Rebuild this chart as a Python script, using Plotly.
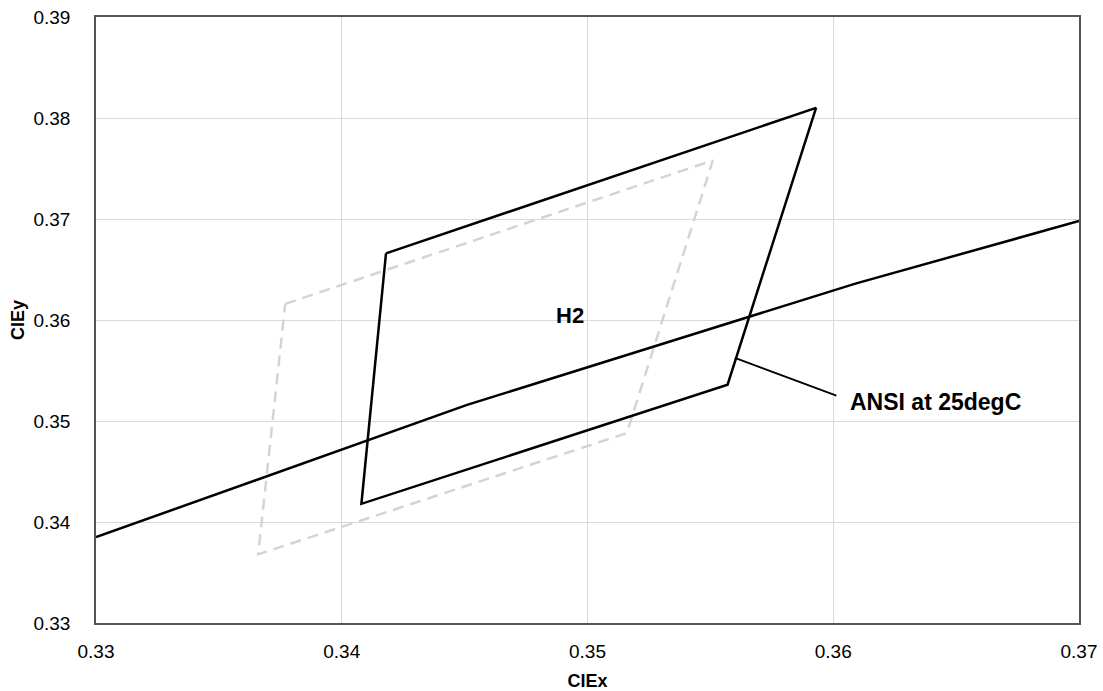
import plotly.graph_objects as go

# H2 quadrangle (solid)
h2_x = [0.3418, 0.3593, 0.3557, 0.3408, 0.3418]
h2_y = [0.3666, 0.3810, 0.3536, 0.3418, 0.3666]

# Shifted quadrangle (dashed gray)
sh_x = [0.3377, 0.3551, 0.3516, 0.3366, 0.3377]
sh_y = [0.3616, 0.3758, 0.3488, 0.3368, 0.3616]

# ANSI line at 25degC
ansi_x = [0.3300, 0.3451, 0.3609, 0.3700]
ansi_y = [0.3385, 0.3516, 0.3636, 0.3698]

x_ticks = [0.33, 0.34, 0.35, 0.36, 0.37]
y_ticks = [0.33, 0.34, 0.35, 0.36, 0.37, 0.38, 0.39]

FONT = "Liberation Sans, Arial, sans-serif"

fig = go.Figure()
fig.add_trace(go.Scatter(x=sh_x, y=sh_y, mode="lines",
                         line=dict(color="#d4d4d4", width=2.5, dash="11px,7px"),
                         showlegend=False, hoverinfo="skip"))
fig.add_trace(go.Scatter(x=h2_x, y=h2_y, mode="lines",
                         line=dict(color="black", width=2.5),
                         showlegend=False, hoverinfo="skip"))
fig.add_trace(go.Scatter(x=ansi_x, y=ansi_y, mode="lines",
                         line=dict(color="black", width=2.5),
                         showlegend=False, hoverinfo="skip"))

fig.add_annotation(x=0.3493, y=0.3604, text="<b>H2</b>", showarrow=False,
                   font=dict(family=FONT, size=22, color="black"))
fig.add_annotation(x=0.3560, y=0.35625, ax=0.36019, ay=0.35245,
                   axref="x", ayref="y", text="", showarrow=True,
                   arrowhead=0, arrowwidth=1.8, arrowcolor="black")
fig.add_annotation(x=0.36060, y=0.35185, text="<b>ANSI at 25degC</b>",
                   showarrow=False, xanchor="left",
                   font=dict(family=FONT, size=23, color="black"))

axis_common = dict(showgrid=True, gridcolor="#d9d9d9", gridwidth=1,
                   showline=True, linecolor="#555555", linewidth=1.5,
                   mirror=True, zeroline=False, ticks="", automargin=False,
                   tickfont=dict(family=FONT, size=19, color="black"))

fig.update_xaxes(range=[0.33, 0.37], tickvals=x_ticks,
                 ticktext=[f"{v:.2f}" for v in x_ticks],
                 ticklabelstandoff=10,
                 title=dict(text="<b>CIEx</b>", font=dict(family=FONT, size=18, color="black"), standoff=14),
                 **axis_common)
fig.update_yaxes(range=[0.33, 0.39], tickvals=y_ticks,
                 ticktext=[f"{v:.2f}" for v in y_ticks],
                 ticklabelstandoff=20,
                 title=dict(text="<b>CIEy</b>", font=dict(family=FONT, size=18, color="black"), standoff=4),
                 **axis_common)

fig.update_layout(width=1103, height=691,
                  margin=dict(l=96, r=24, t=17, b=68),
                  plot_bgcolor="white", paper_bgcolor="white",
                  font=dict(family=FONT))

fig.write_html("out.html", config={"displayModeBar": False},
               post_script="document.body.style.margin='0';document.body.style.overflow='hidden';")
